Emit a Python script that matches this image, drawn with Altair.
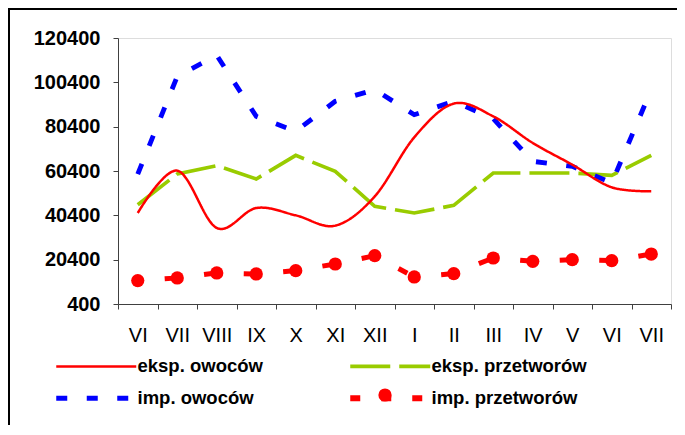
import json
import altair as alt
import pandas as pd

months = ["VI", "VII", "VIII", "IX", "X", "XI", "XII", "I", "II", "III", "IV", "V", "VI", "VII"]
series_names = ["eksp. owoców", "eksp. przetworów", "imp. owoców", "imp. przetworów"]
eksp_owocow = [41450, 60550, 34700, 43700, 40400, 35750, 48950, 75600, 90800, 85050, 73050, 63250, 53050, 51250]
eksp_przetworow = [45200, 59050, 62800, 56800, 67450, 60250, 44450, 41450, 44900, 59500, 59500, 59500, 58450, 67500]
imp_owocow = [59000, 103100, 112600, 85050, 78300, 91850, 97100, 85800, 91850, 84000, 64750, 62500, 55000, 97100]
imp_przetworow = [10950, 12150, 14400, 13950, 15450, 18450, 22200, 12600, 14100, 21150, 19650, 20400, 19950, 22950]
y_ticks = list(range(400, 120401, 20000))

colors = ["#FF0000", "#99CC00", "#0000FF", "#FF0000"]
dashes = [[1, 0], [40, 9], [11, 19.5], [10, 21]]
widths = [2.5, 6, 5.5, 5]

FONT = "Liberation Sans"

rows = []
for name, vals in zip(series_names[:3], [eksp_owocow, eksp_przetworow, imp_owocow]):
    for i, v in enumerate(vals):
        rows.append({"idx": i, "month": months[i], "series": name, "value": v})
lines_df = pd.DataFrame(rows)

seg_rows = []
for i in range(len(imp_przetworow) - 1):
    for j in (i, i + 1):
        seg_rows.append({"idx": j, "seg": i, "value": imp_przetworow[j]})
seg_df = pd.DataFrame(seg_rows)

dots_df = pd.DataFrame({
    "idx": list(range(len(imp_przetworow))),
    "value": imp_przetworow,
    "dot": [series_names[3]] * len(imp_przetworow),
})

n = len(months)
label_expr = "(" + json.dumps(months) + ")[datum.value + 0.5] || ''"

x_enc = alt.X(
    "idx:Q",
    scale=alt.Scale(domain=[-0.5, n - 0.5], nice=False, zero=False),
    axis=alt.Axis(
        values=[i - 0.5 for i in range(n + 1)],
        labelExpr=label_expr,
        labelOffset=19.75,
        labelFont=FONT,
        labelFontSize=20,
        labelColor="#000000",
        labelFlush=False,
        labelOverlap=False,
        labelPadding=16,
        tickSize=5,
        tickColor="#404040",
        domainColor="#404040",
        grid=False,
        title=None,
    ),
)
y_enc = alt.Y(
    "value:Q",
    scale=alt.Scale(domain=[400, 120400], nice=False, zero=False),
    axis=alt.Axis(
        values=y_ticks,
        format="d",
        labelFont=FONT,
        labelFontSize=20,
        labelFontWeight="bold",
        labelColor="#000000",
        labelPadding=13,
        tickSize=5,
        tickColor="#404040",
        domainColor="#404040",
        grid=False,
        title=None,
    ),
)

legend = alt.Legend(
    orient="none",
    legendX=-31,
    legendY=319,
    columns=2,
    direction="horizontal",
    title=None,
    symbolType="M-8,0H8",
    symbolSize=100,
    labelFont=FONT,
    labelFontSize=18.5,
    labelFontWeight="bold",
    labelColor="#000000",
    labelOffset=32,
    columnPadding=75,
    rowPadding=10,
)

color_enc = alt.Color("series:N", scale=alt.Scale(domain=series_names, range=colors), legend=legend)
dash_enc = alt.StrokeDash("series:N", scale=alt.Scale(domain=series_names, range=dashes), legend=legend)
width_enc = alt.StrokeWidth("series:N", scale=alt.Scale(domain=series_names, range=widths), legend=legend)

smooth = alt.Chart(lines_df).transform_filter(
    alt.datum.series == series_names[0]
).mark_line(interpolate="cardinal", strokeCap="butt").encode(
    x=x_enc, y=y_enc, color=color_enc, strokeDash=dash_enc, strokeWidth=width_enc, order="idx:Q"
)

straight = alt.Chart(lines_df).transform_filter(
    alt.datum.series != series_names[0]
).mark_line(strokeCap="butt", strokeJoin="miter").encode(
    x=x_enc, y=y_enc, color=color_enc, strokeDash=dash_enc, strokeWidth=width_enc, order="idx:Q"
)

segs = alt.Chart(seg_df).mark_line(
    color="#FF0000", strokeWidth=5, strokeCap="butt", strokeDash=[0, 27, 10, 200]
).encode(x=x_enc, y=y_enc, detail="seg:N", order="idx:Q")

dots = alt.Chart(dots_df).mark_point(filled=True, opacity=1, size=175, color="#FF0000").encode(
    x=x_enc,
    y=y_enc,
    shape=alt.Shape(
        "dot:N",
        scale=alt.Scale(domain=[series_names[3]], range=["circle"]),
        legend=alt.Legend(
            orient="none",
            legendX=260,
            legendY=350,
            title=None,
            labelExpr="''",
            symbolFillColor="#FF0000",
            symbolStrokeWidth=0,
            symbolSize=175,
            symbolOpacity=1,
            zindex=2,
        ),
    ),
)

frame_top = alt.Chart(pd.DataFrame({"k": [0]})).mark_rule(color="#000000", strokeWidth=2).encode(
    x=alt.value(-110), x2=alt.value(560), y=alt.value(-29)
)
frame_left = alt.Chart(pd.DataFrame({"k": [0]})).mark_rule(color="#000000", strokeWidth=2).encode(
    x=alt.value(-109), y=alt.value(-30), y2=alt.value(390)
)

chart = alt.layer(frame_top, frame_left, straight, smooth, segs, dots).properties(
    width=553,
    height=266,
    autosize=alt.AutoSizeParams(type="none"),
    padding={"left": 110, "top": 30, "right": 6, "bottom": 121},
).configure_view(stroke=None).configure(font=FONT)

chart.save("out.html", embed_options={"renderer": "svg", "actions": False})
